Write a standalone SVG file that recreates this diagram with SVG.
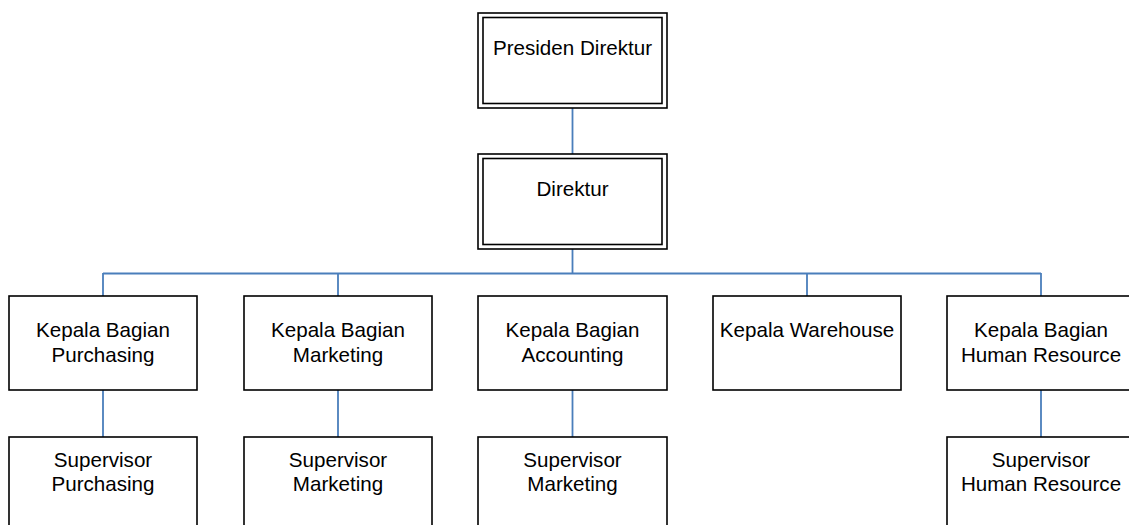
<svg xmlns="http://www.w3.org/2000/svg" width="1129" height="525" viewBox="0 0 1129 525">
<style>
.box{fill:#fff;stroke:#000;stroke-width:1.6}
.conn line{stroke:#4A7EBB;stroke-width:1.8;fill:none}
text{font-family:"Liberation Sans",Arial,sans-serif;font-size:20.6px;fill:#000;text-anchor:middle}
</style>
<rect width="1129" height="525" fill="#fff"/>
<g id="connectors" class="conn">
<line x1="572.5" y1="108" x2="572.5" y2="154"/>
<line x1="572.5" y1="249" x2="572.5" y2="274"/>
<line x1="103" y1="273.5" x2="1041" y2="273.5"/>
<line x1="103" y1="273" x2="103" y2="296"/>
<line x1="338" y1="273" x2="338" y2="296"/>
<line x1="807" y1="273" x2="807" y2="296"/>
<line x1="1041" y1="273" x2="1041" y2="296"/>
<line x1="103" y1="390" x2="103" y2="437"/>
<line x1="338" y1="390" x2="338" y2="437"/>
<line x1="572.5" y1="390" x2="572.5" y2="437"/>
<line x1="1041" y1="390" x2="1041" y2="437"/>
</g>
<g id="presiden-direktur">
<rect class="box" x="478" y="13" width="189" height="95"/>
<rect class="box" x="483" y="17.5" width="179" height="86"/>
<text x="572.5" y="55">Presiden Direktur</text>
</g>
<g id="direktur">
<rect class="box" x="478" y="154" width="189" height="95"/>
<rect class="box" x="483" y="158.5" width="179" height="86"/>
<text x="572.5" y="196">Direktur</text>
</g>
<g id="kb-purchasing">
<rect class="box" x="9" y="296" width="188" height="94"/>
<text x="103" y="337">Kepala Bagian</text>
<text x="103" y="362">Purchasing</text>
</g>
<g id="kb-marketing">
<rect class="box" x="244" y="296" width="188" height="94"/>
<text x="338" y="337">Kepala Bagian</text>
<text x="338" y="362">Marketing</text>
</g>
<g id="kb-accounting">
<rect class="box" x="478" y="296" width="189" height="94"/>
<text x="572.5" y="337">Kepala Bagian</text>
<text x="572.5" y="362">Accounting</text>
</g>
<g id="k-warehouse">
<rect class="box" x="713" y="296" width="188" height="94"/>
<text x="807" y="337">Kepala Warehouse</text>
</g>
<g id="kb-hr">
<rect class="box" x="947" y="296" width="188" height="94"/>
<text x="1041" y="337">Kepala Bagian</text>
<text x="1041" y="362">Human Resource</text>
</g>
<g id="sup-purchasing">
<rect class="box" x="9" y="437" width="188" height="100"/>
<text x="103" y="467">Supervisor</text>
<text x="103" y="491">Purchasing</text>
</g>
<g id="sup-marketing">
<rect class="box" x="244" y="437" width="188" height="100"/>
<text x="338" y="467">Supervisor</text>
<text x="338" y="491">Marketing</text>
</g>
<g id="sup-marketing-2">
<rect class="box" x="478" y="437" width="189" height="100"/>
<text x="572.5" y="467">Supervisor</text>
<text x="572.5" y="491">Marketing</text>
</g>
<g id="sup-hr">
<rect class="box" x="947" y="437" width="188" height="100"/>
<text x="1041" y="467">Supervisor</text>
<text x="1041" y="491">Human Resource</text>
</g>
</svg>
